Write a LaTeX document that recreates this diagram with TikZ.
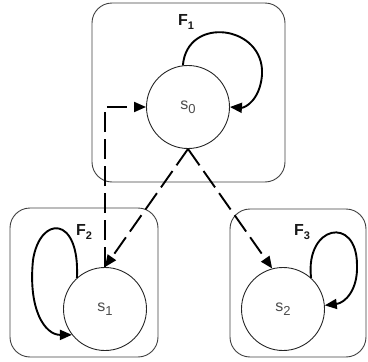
\documentclass[tikz,border=0pt]{standalone}
\usepackage{fontspec}
\setmainfont{Liberation Sans}
\usetikzlibrary{arrows.meta}
\newcommand{\fsub}[1]{\raisebox{-4pt}{\fontsize{11}{12}\selectfont #1}}
\newcommand{\ssub}[1]{\raisebox{-4pt}{\fontsize{13}{14}\selectfont #1}}
\begin{document}
\begin{tikzpicture}[x=1pt,y=-1pt,
  frame/.style={draw=black!75, line width=0.9pt, rounded corners=20pt},
  state/.style={draw=black!85, circle, line width=0.9pt, minimum size=83pt, inner sep=0pt,
    text=black!70, font=\fontsize{16}{18}\selectfont},
  flab/.style={font=\fontsize{16}{18}\selectfont\bfseries, text=black!90},
  tip/.style={-{Triangle[length=12pt,width=10pt]}},
  loopline/.style={tip, line width=1.9pt},
  dashline/.style={tip, line width=1.9pt, dash pattern=on 20pt off 7pt}]
\useasboundingbox (0,0) rectangle (368,362);
\draw[frame] (92,3) rectangle (285,182);
\draw[frame] (10,208) rectangle (158,357);
\draw[frame] (230,209) rectangle (366,357);
\node[flab] (f1) at (186,22) {F\fsub{1}};
\node[flab] (f2) at (84,232) {F\fsub{2}};
\node[flab] (f3) at (302,232) {F\fsub{3}};
\node[state] (s0) at (188,107) {s\ssub{0}};
\node[state] (s1) at (105,309) {s\ssub{1}};
\node[state] (s2) at (283,309) {s\ssub{2}};
% self loops
\draw[loopline] (s0.97) .. controls (187,15) and (265,25) .. (262,75) .. controls (260,100) and (245,108) .. (s0.east);
\draw[loopline] (s1.132) .. controls (80,215) and (40,215) .. (33,260) .. controls (28,310) and (45,335) .. (s1.218);
\draw[loopline] (s2.48) .. controls (305,225) and (357,215) .. (357,265) .. controls (358,290) and (345,303) .. (s2.5);
% dashed transitions
\draw[dashline] (s1.north) |- (s0.west);
\draw[dashline] (s0.south) -- (s1.north);
\draw[dashline] (s0.south) -- (s2.105);
\end{tikzpicture}
\end{document}
